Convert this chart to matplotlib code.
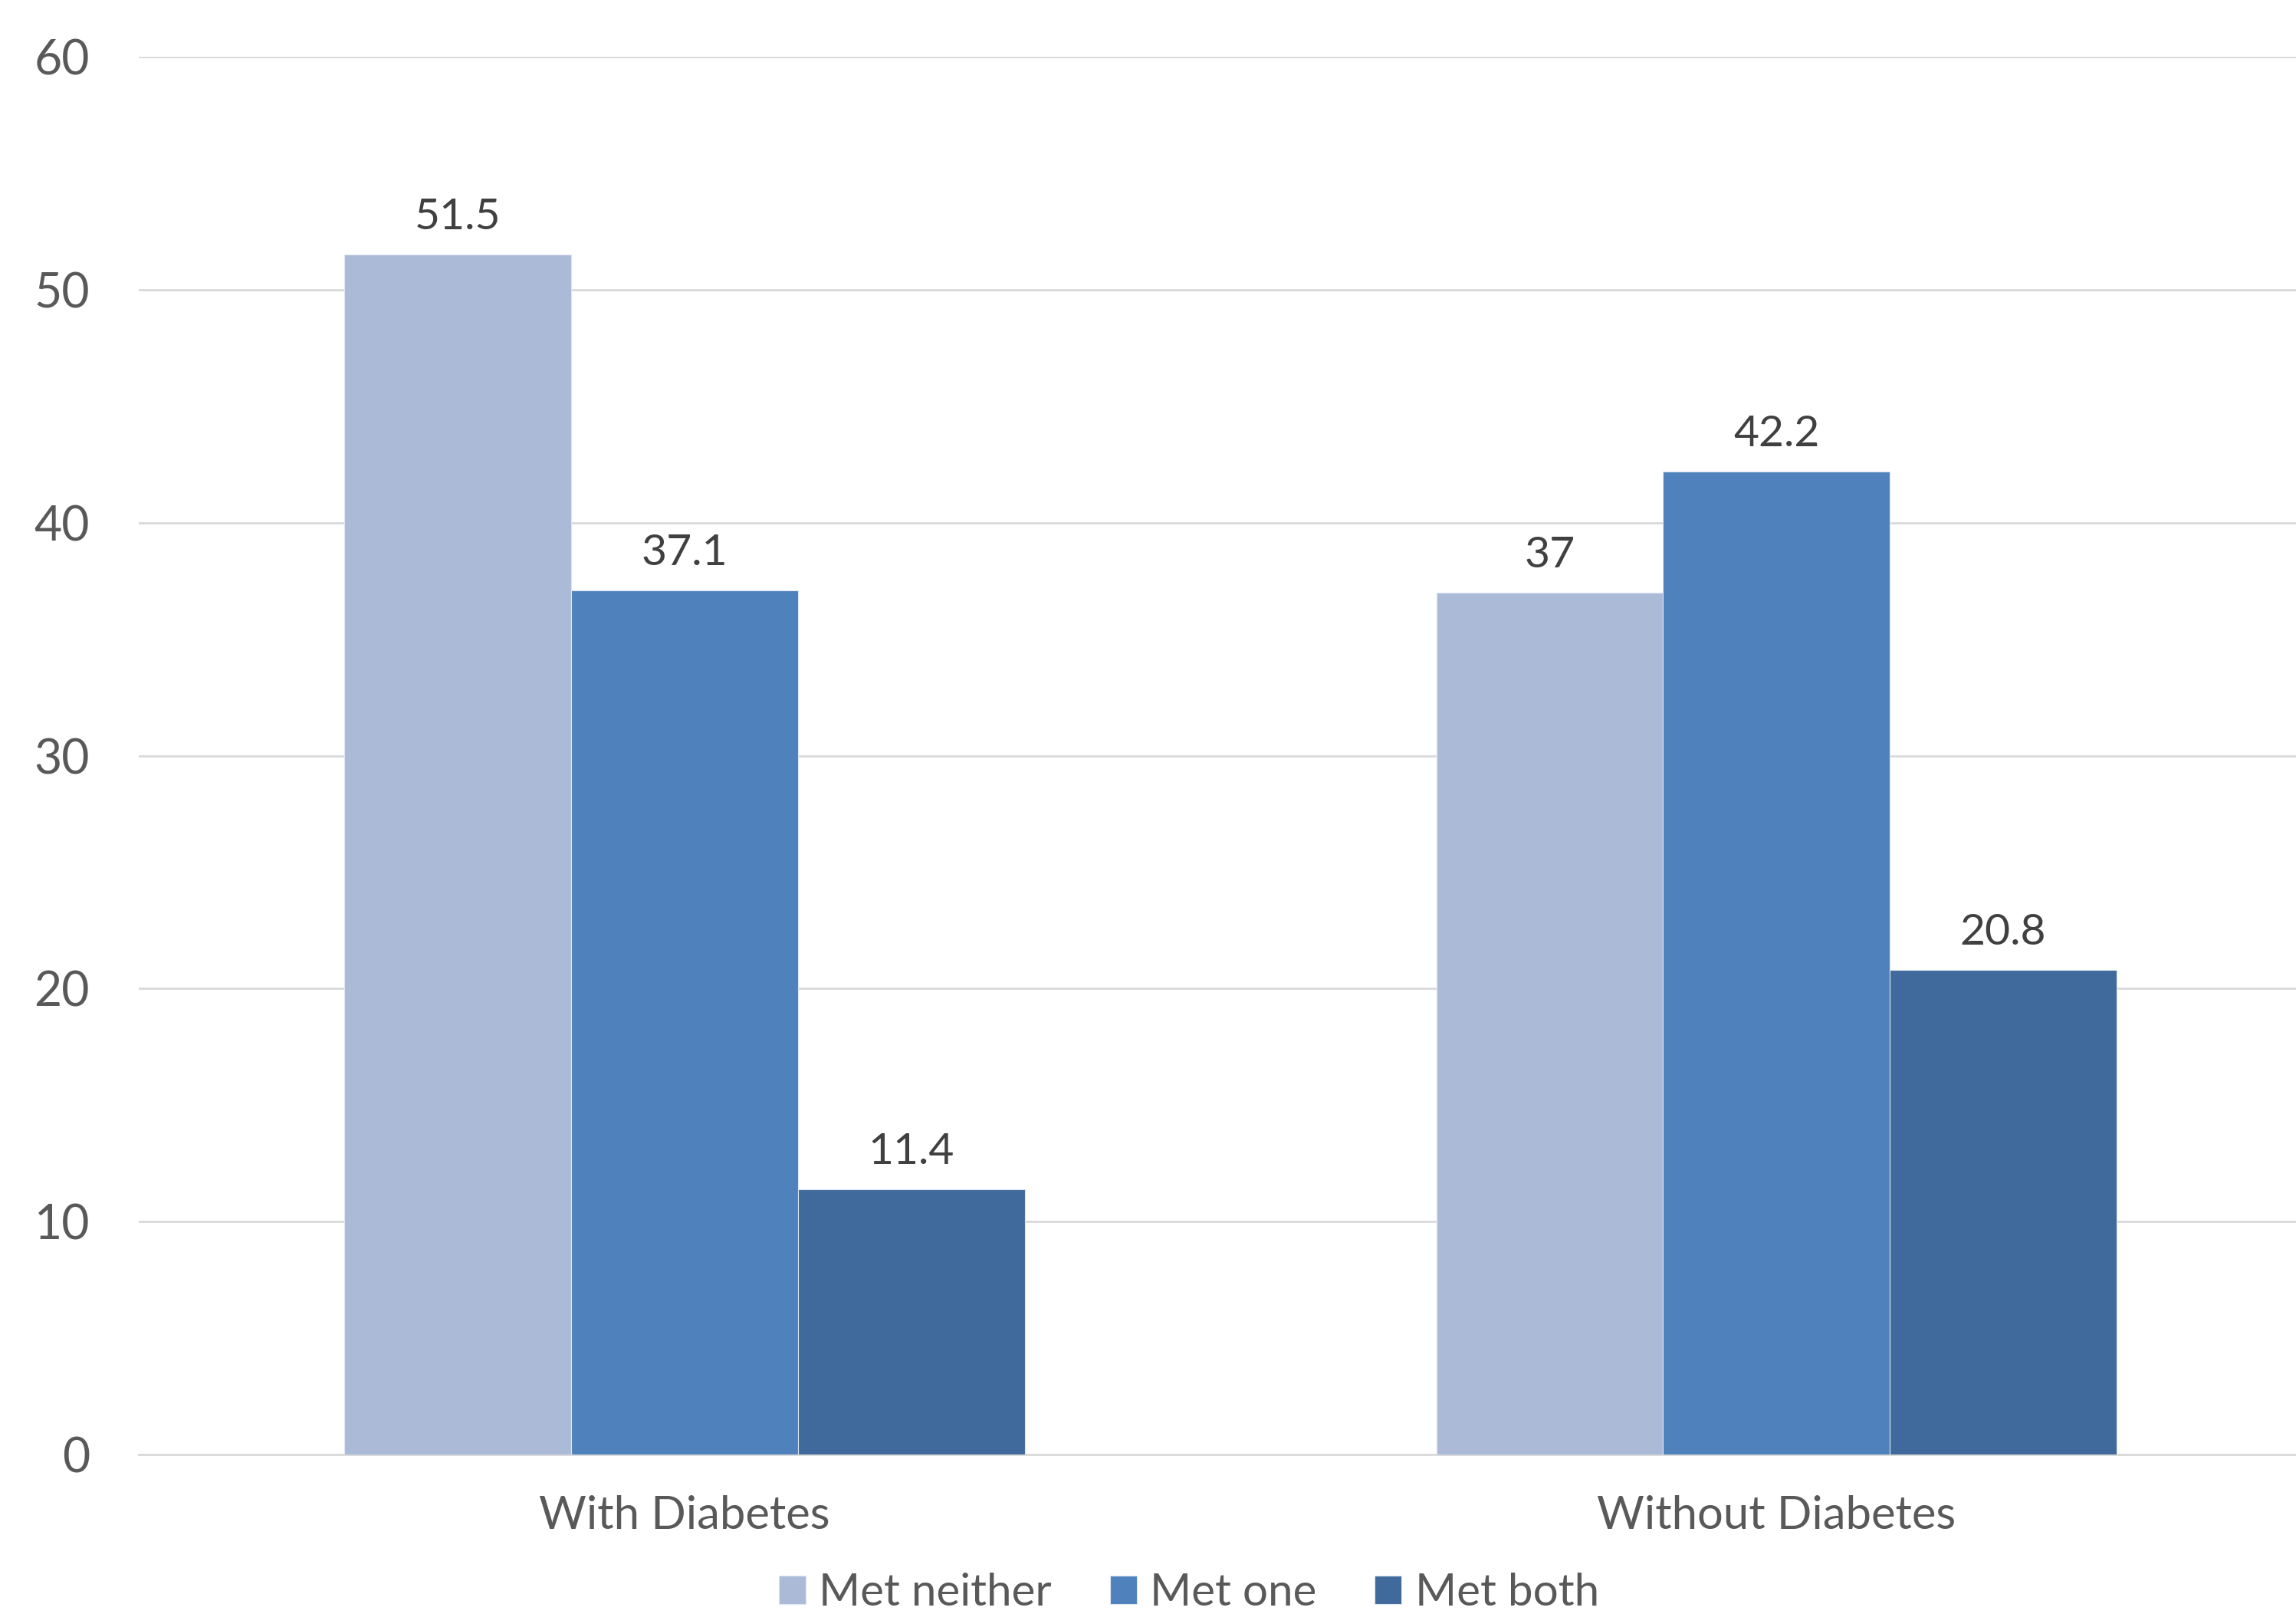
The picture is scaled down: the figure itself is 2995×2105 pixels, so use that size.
import matplotlib.pyplot as plt
import numpy as np

plt.rcParams['font.family'] = ['Lato', 'DejaVu Sans']

groups = ['With Diabetes', 'Without Diabetes']
series = ['Met neither', 'Met one', 'Met both']
met_neither = [51.5, 37]
met_one = [37.1, 42.2]
met_both = [11.4, 20.8]
colors = ['#ABBAD7', '#4F81BD', '#3F6A9B']

fig = plt.figure(figsize=(29.95, 21.05), dpi=100)
ax = fig.add_axes([181 / 2995, 1 - 1897 / 2105, 1 - 181 / 2995, (1897 - 74) / 2105])

x = np.arange(len(groups))
w = 0.2077
for i, (vals, c, name) in enumerate(zip([met_neither, met_one, met_both], colors, series)):
    pos = x + (i - 1) * w
    bars = ax.bar(pos, vals, width=w, color=c, edgecolor='#dde6f2', linewidth=0.8,
                  label=name, zorder=3)
    for b, v in zip(bars, vals):
        ax.text(b.get_x() + b.get_width() / 2, v + 1.6, f'{v:g}', ha='center',
                va='center', fontsize=41, color='#404040')

ax.set_ylim(0, 60)
ax.set_xlim(-0.5, -0.5 + 1474 / 746)
ax.set_yticks(range(0, 61, 10))
ax.yaxis.grid(True, color='#d9d9d9', linewidth=2, zorder=0)
ax.tick_params(axis='y', length=0, pad=46, labelsize=45, labelcolor='#595959')
ax.tick_params(axis='x', length=0, pad=38, labelsize=43, labelcolor='#595959')
ax.set_xticks(x)
ax.set_xticklabels(groups)
for s in ['top', 'right', 'left']:
    ax.spines[s].set_visible(False)
ax.spines['bottom'].set_color('#d9d9d9')
ax.spines['bottom'].set_linewidth(2)

leg = fig.legend(loc='center', bbox_to_anchor=(1551 / 2995, 1 - 2078 / 2105), ncol=3,
                 frameon=False, fontsize=42, handlelength=0.6, handleheight=0.6,
                 handletextpad=0.3, columnspacing=1.3)
for t in leg.get_texts():
    t.set_color('#595959')

fig.savefig('out.png', dpi=100)
